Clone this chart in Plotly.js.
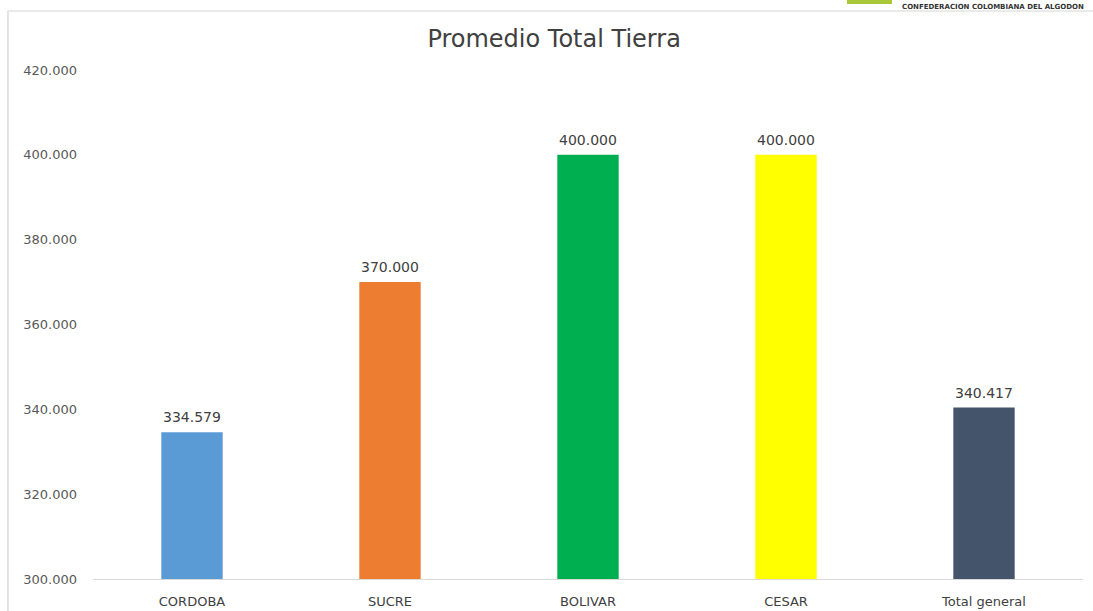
<!DOCTYPE html>
<html>
<head>
<meta charset="utf-8">
<script src="https://cdn.plot.ly/plotly-3.0.1.min.js"></script>
<style>
html,body{margin:0;padding:0;background:#fff;}
#chart{width:1093px;height:611px;}
</style>
</head>
<body>
<div id="chart"></div>
<script>
const categories = ["CORDOBA", "SUCRE", "BOLIVAR", "CESAR", "Total general"];
const values = [334579, 370000, 400000, 400000, 340417];
const barColors = ["#5B9BD5", "#ED7D31", "#00B050", "#FFFF00", "#44546A"];
const yTickValues = [300000, 320000, 340000, 360000, 380000, 400000, 420000];
const chartTitle = "Promedio Total Tierra";
const logoText = "CONFEDERACION COLOMBIANA DEL ALGODON";

const FONT = "DejaVu Sans, Liberation Sans, sans-serif";

function fmt(v) {
  return String(v).replace(/\B(?=(\d{3})+(?!\d))/g, ".");
}

const trace = {
  type: "bar",
  x: categories,
  y: values,
  marker: { color: barColors, line: { width: 0 } },
  hoverinfo: "x+y"
};

const labelAnnotations = categories.map((c, i) => ({
  x: c, y: values[i], xref: "x", yref: "y",
  text: fmt(values[i]),
  showarrow: false, yanchor: "bottom", yshift: 5,
  font: { family: FONT, size: 14, color: "#404040" }
}));

const layout = {
  width: 1093,
  height: 611,
  margin: { l: 93, r: 10, t: 70, b: 32 },
  paper_bgcolor: "#ffffff",
  plot_bgcolor: "#ffffff",
  separators: ",.",
  showlegend: false,
  bargap: 0.69,
  title: {
    text: chartTitle,
    x: 0.507, xanchor: "center",
    y: 0.937, yanchor: "middle",
    font: { family: FONT, size: 24, color: "#404040" }
  },
  xaxis: {
    type: "category",
    showline: true, linecolor: "#d9d9d9", linewidth: 1,
    showgrid: false, zeroline: false, ticks: "",
    ticklabelstandoff: 10,
    tickfont: { family: FONT, size: 13, color: "#404040" }
  },
  yaxis: {
    range: [300000, 420000],
    tickvals: yTickValues,
    ticktext: yTickValues.map(fmt),
    showgrid: false, zeroline: false, showline: false,
    ticks: "", ticklabelstandoff: 15,
    tickfont: { family: FONT, size: 13, color: "#595959" }
  },
  shapes: [
    { type: "line", xref: "paper", yref: "paper", x0: -0.0859, x1: -0.0859, y0: -0.2, y1: 1.1159,
      line: { color: "#d9d9d9", width: 1.5 } },
    { type: "line", xref: "paper", yref: "paper", x0: -0.0859, x1: 1.02, y0: 1.1159, y1: 1.1159,
      line: { color: "#e3e3e3", width: 1.5 } },
    { type: "rect", xref: "paper", yref: "paper", x0: (847-93)/990, x1: (892-93)/990, y0: (579-4)/509, y1: (579+2)/509,
      fillcolor: "#a8c83a", line: { width: 0 } }
  ],
  annotations: labelAnnotations.concat([
    { xref: "paper", yref: "paper", x: (900-93)/990, y: (579-1)/509, xanchor: "left", yanchor: "top",
      text: "<b>" + logoText + "</b>", showarrow: false,
      font: { family: FONT, size: 7, color: "#333333" } }
  ])
};

Plotly.newPlot("chart", [trace], layout, { displayModeBar: false, staticPlot: true });
</script>
</body>
</html>
